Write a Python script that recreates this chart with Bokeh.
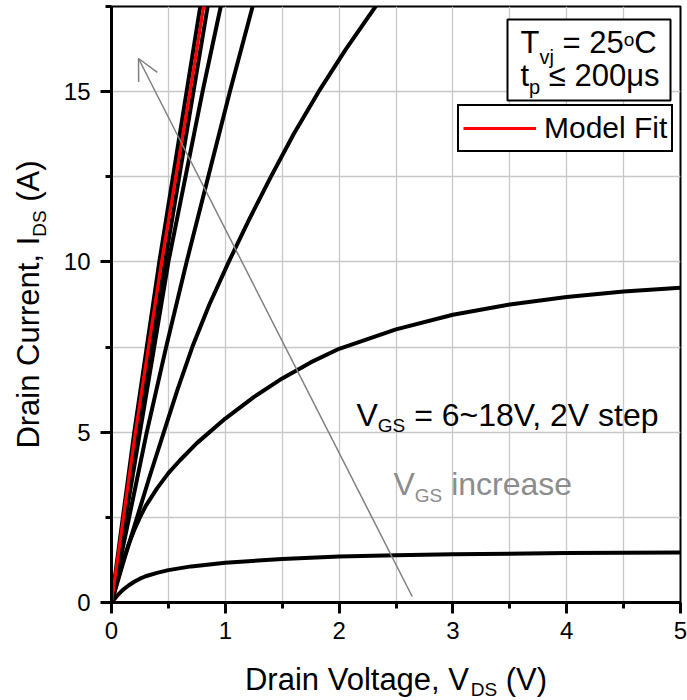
from bokeh.plotting import figure
from bokeh.models import (FixedTicker, Label, Arrow, OpenHead, BoxAnnotation,
                          Legend, LegendItem, Range1d)
from bokeh.core.properties import value
from bokeh.embed import file_html
from bokeh.resources import INLINE

# ---------------- data ----------------
vgs_steps = [6, 8, 10, 12, 14, 16, 18]

# V_GS = 6 V  (I_DS as a function of V_DS)
vds_6 = [0, 0.025, 0.05, 0.1, 0.15, 0.2, 0.25, 0.3, 0.4, 0.5, 0.7, 1.0, 1.5,
         2.0, 2.5, 3.0, 4.0, 5.0]
ids_6 = [0, 0.10, 0.20, 0.37, 0.50, 0.61, 0.70, 0.77, 0.87, 0.95, 1.06, 1.17,
         1.28, 1.35, 1.39, 1.42, 1.45, 1.47]

# V_GS = 8 V
vds_8 = [0, 0.05, 0.1, 0.15, 0.2, 0.25, 0.3, 0.4, 0.5, 0.6, 0.75, 1.0, 1.25,
         1.5, 1.75, 2.0, 2.5, 3.0, 3.5, 4.0, 4.5, 5.0]
ids_8 = [0, 0.62, 1.20, 1.70, 2.13, 2.50, 2.83, 3.35, 3.80, 4.17, 4.68, 5.40,
         6.03, 6.58, 7.05, 7.45, 8.02, 8.45, 8.75, 8.97, 9.13, 9.24]

# V_GS = 10 V  (V_DS read at fixed currents)
ids_10 = [0, 1.25, 2.5, 3.75, 5, 6.25, 7.5, 8.75, 10, 11.25, 12.5, 13.75, 15,
          16.25, 17.5, 18.5]
vds_10 = [0, 0.11, 0.225, 0.34, 0.46, 0.58, 0.71, 0.86, 1.03, 1.21, 1.40, 1.60,
          1.82, 2.06, 2.32, 2.53]

# V_GS = 12 ... 18 V and model fit (V_DS read at fixed currents)
ids_lin = [0, 2.5, 5, 7.5, 10, 12.5, 15, 17.5, 18.5]
vds_12 = [0, 0.155, 0.31, 0.48, 0.66, 0.85, 1.04, 1.24, 1.32]
vds_14 = [0, 0.125, 0.25, 0.375, 0.50, 0.65, 0.80, 0.96, 1.02]
vds_16 = [0, 0.115, 0.23, 0.35, 0.47, 0.595, 0.72, 0.845, 0.895]
vds_18 = [0, 0.10, 0.20, 0.31, 0.42, 0.54, 0.66, 0.78, 0.83]
vds_fit = [0, 0.105, 0.21, 0.325, 0.44, 0.565, 0.69, 0.81, 0.86]

x_major = [0, 1, 2, 3, 4, 5]
x_minor = [0.5, 1.5, 2.5, 3.5, 4.5]
y_major = [0, 5, 10, 15]
y_minor = [2.5, 7.5, 12.5, 17.5]

# ---------------- layout ----------------
W, H = 687, 700
BL, BR, BT, BB = 111, 7, 6, 98
FW, FH = W - BL - BR, H - BT - BB
X0, X1, Y0, Y1 = 0, 5, 0, 17.5
SX, SY = FW / (X1 - X0), FH / (Y1 - Y0)
FONT = "Liberation Sans"
GRAY = "#8c8c8c"
BASE_K = 0.35   # measured shift between the text anchor and the alphabetic baseline (em)

def rx(px):
    """canvas pixel column -> data x"""
    return X0 + (px - BL) / SX

def ry(py):
    """canvas pixel row -> data y"""
    return Y0 + (BT + FH - py) / SY

p = figure(width=W, height=H, x_range=Range1d(X0, X1), y_range=Range1d(Y0, Y1),
           output_backend="svg", toolbar_location=None,
           min_border_left=BL, min_border_right=BR,
           min_border_top=BT, min_border_bottom=BB)
p.background_fill_color = "white"
p.border_fill_color = "white"
p.outline_line_color = "black"
p.outline_line_width = 2

xt = FixedTicker(ticks=x_major, minor_ticks=x_minor)
yt = FixedTicker(ticks=y_major, minor_ticks=y_minor)
p.xaxis.ticker = xt
p.yaxis.ticker = yt
p.xgrid.ticker = xt
p.ygrid.ticker = yt
for g in (p.xgrid, p.ygrid):
    g.grid_line_color = "#c8c8c8"
    g.grid_line_width = 1.3
    g.minor_grid_line_color = "#c8c8c8"
    g.minor_grid_line_width = 1.3

for ax in (p.xaxis, p.yaxis):
    ax.axis_line_width = 3
    ax.axis_line_color = "black"
    ax.major_tick_line_width = 3
    ax.minor_tick_line_width = 3
    ax.major_tick_out = 11
    ax.major_tick_in = 0
    ax.minor_tick_out = 6
    ax.minor_tick_in = 0
    ax.major_label_text_font = FONT
    ax.major_label_text_font_size = "24px"
    ax.major_label_text_color = "black"
p.xaxis.major_label_standoff = 8
p.yaxis.major_label_standoff = 10

# ---------------- curves ----------------
CW = 4
p.line(vds_6, ids_6, line_color="black", line_width=CW, line_join="round")
p.line(vds_8, ids_8, line_color="black", line_width=CW, line_join="round")
p.line(vds_10, ids_10, line_color="black", line_width=CW, line_join="round")
for v in (vds_12, vds_14, vds_16, vds_18):
    p.line(v, ids_lin, line_color="black", line_width=CW, line_join="round")
fit_r = p.line(vds_fit, ids_lin, line_color="#ff0000", line_width=3.2, line_join="round")

# ---------------- text helpers ----------------
EM = {' ': 278, '(': 333, ')': 333, ',': 278, '=': 584, '~': 584, '≤': 549,
      'μ': 576, 'A': 667, 'C': 722, 'D': 722, 'F': 611, 'G': 778, 'I': 278,
      'M': 833, 'S': 667, 'T': 611, 'V': 667, 'a': 556, 'c': 500, 'd': 556,
      'e': 556, 'g': 556, 'i': 222, 'j': 222, 'l': 222, 'n': 556, 'o': 556,
      'p': 556, 'r': 333, 's': 500, 't': 278, 'u': 556, 'v': 500}

def tw(s, size):
    return sum(EM.get(c, 556) for c in s) / 1000.0 * size

def layout_pieces(pieces, center):
    """(text, size, shift, start_px) with leading spaces turned into advance"""
    total = sum(tw(t, s) for t, s, _ in pieces)
    pos = -total / 2.0 if center else 0.0
    out = []
    for t, s, shift in pieces:
        lead = len(t) - len(t.lstrip(" "))
        out.append((t.strip(" "), s, shift, pos + tw(" " * lead, s)))
        pos += tw(t, s)
    return out

def rich(px, py, pieces, color="black"):
    """multi-size text inside the frame; (px, py) = left end of the baseline"""
    for t, s, shift, start in layout_pieces(pieces, False):
        lab = Label(x=rx(px), y=ry(py), x_offset=start,
                    y_offset=BASE_K * s - shift, text=t)
        lab.text_font = FONT
        lab.text_font_size = f"{s}px"
        lab.text_color = color
        lab.text_align = "left"
        lab.text_baseline = "alphabetic"
        p.add_layout(lab)

def title_h(xc, gap_px, pieces):
    """horizontal axis title below the frame (overlay-level text glyphs)"""
    ya = Y0 + 1.0
    for t, s, shift, start in layout_pieces(pieces, True):
        p.text(x=[xc + start / SX], y=[ya], text=[t], x_offset=0,
               y_offset=gap_px + (ya - Y0) * SY + shift - BASE_K * s,
               text_font=value(FONT), text_font_size=value(f"{s}px"),
               text_color="black", text_align="left", text_baseline="alphabetic",
               level="overlay")

def title_v(yc, gap_px, pieces):
    """vertical axis title left of the frame (overlay-level text glyphs)"""
    xa = X0 + 0.2
    for t, s, shift, start in layout_pieces(pieces, True):
        p.text(x=[xa], y=[yc + start / SY], text=[t],
               x_offset=-gap_px - (xa - X0) * SX + shift - BASE_K * s, y_offset=0,
               angle=1.5707963267948966,
               text_font=value(FONT), text_font_size=value(f"{s}px"),
               text_color="black", text_align="left", text_baseline="alphabetic",
               level="overlay")

# axis titles
title_h((X0 + X1) / 2, 88, [("Drain Voltage, V", 31, 0), ("DS", 19, 6), (" (V)", 31, 0)])
title_v((Y0 + Y1) / 2, 72, [("Drain Current, I", 31, 0), ("DS", 19, 7), (" (A)", 31, 0)])

# conditions box
p.add_layout(BoxAnnotation(left=rx(507), right=rx(670), top=ry(19), bottom=ry(100),
                           fill_color="white", fill_alpha=1.0, line_color="black",
                           line_alpha=1.0, line_width=2))
rich(520, 53, [("T", 31, 0), ("vj", 20, 10), (" = 25", 31, 0), ("o", 19, -7), ("C", 31, 0)])
rich(520, 86, [("t", 31, 0), ("p", 20, 7), (" ≤ 200μs", 31, 0)])

# annotations
rich(356, 426, [("V", 32, 0), ("GS", 19, 6), (" = 6~18V, 2V step", 32, 0)])
rich(393, 495, [("V", 32, 0), ("GS", 19, 7), (" increase", 32, 0)], color=GRAY)

p.add_layout(Arrow(end=OpenHead(size=21, line_color="#808080", line_width=1.5),
                   x_start=rx(411.7), y_start=ry(596), x_end=rx(138), y_end=ry(58),
                   line_color="#808080", line_width=1.5))

# legend (location in frame pixels from its bottom-left corner)
legend = Legend(items=[LegendItem(label="Model Fit", renderers=[fit_r])],
                location=(670 - BL - 213, BT + FH - 152), orientation="vertical",
                label_text_font=FONT, label_text_font_size="30px",
                label_text_color="black", label_standoff=8, label_height=36,
                glyph_width=73, glyph_height=36, padding=4, spacing=0, margin=0,
                border_line_color="black", border_line_width=2, border_line_alpha=1.0,
                background_fill_color="white", background_fill_alpha=1.0)
p.add_layout(legend)

open("out.html", "w").write(file_html(p, INLINE))
